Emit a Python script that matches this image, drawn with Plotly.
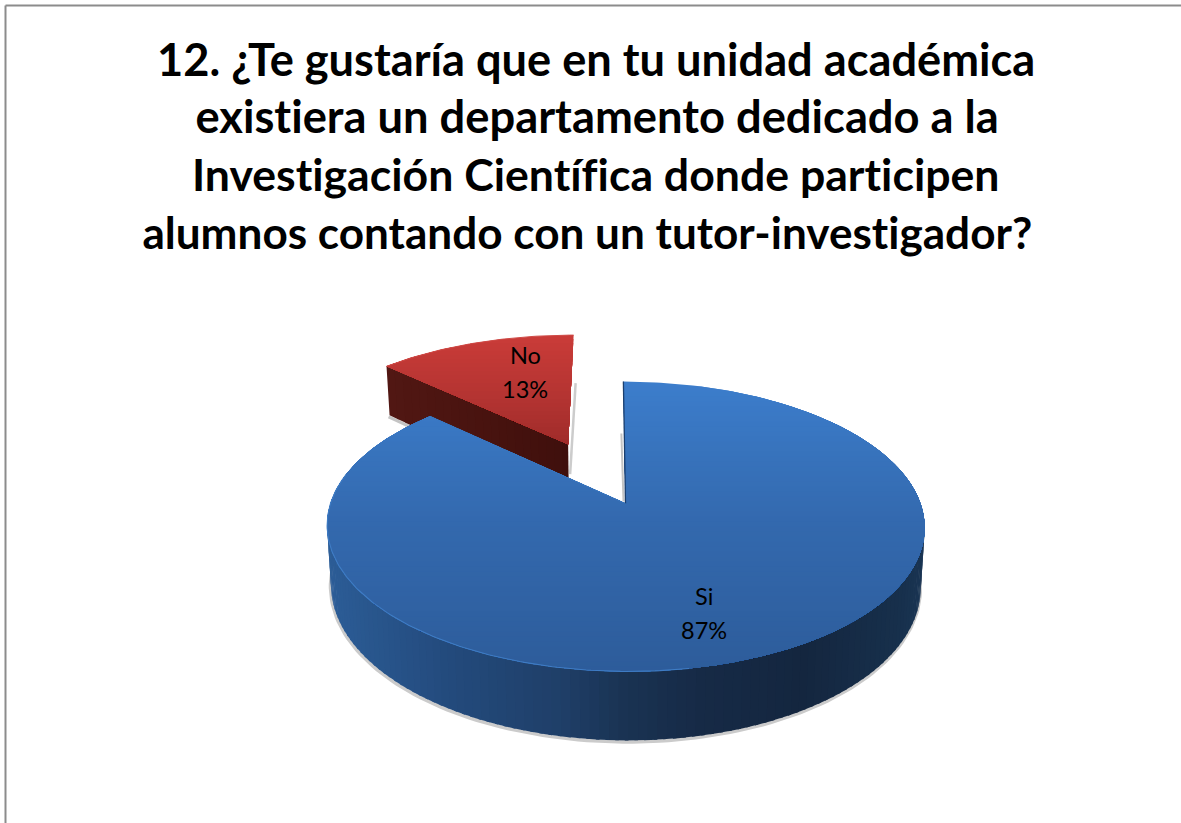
import numpy as np
import plotly.graph_objects as go

# ---- data ----
categories = ["Si", "No"]
values = [87, 13]
title_lines = [
    "12. ¿Te gustaría que en tu unidad académica",
    "existiera un departamento dedicado a la",
    "Investigación Científica donde participen",
    "alumnos contando con un tutor-investigador?",
]

# ---- view of the tilted pie ----
W, H = 1181, 823
CX, CY, VX = 625.5, 503.5, 610.0
R, RK, P, DEPTH = 295.0, 141.3, 0.1587, 58.0
Z_SHRINK = 0.013
EXPLODE_NO = 0.49
RADIUS_NO = 1.02
NO_SHIFT = -0.01
TOTAL = sum(values)


def project(X, Y, z=0.0):
    X, Y = np.asarray(X, float), np.asarray(Y, float)
    w = 1 - P * Y
    return VX + (CX - VX + R * X * (1 - Z_SHRINK * z)) / w, CY + (RK * Y + DEPTH * z) / w


def ring(a0, a1, n, ox=0.0, oy=0.0, r=1.0):
    t = np.radians(np.linspace(a0, a1, n))
    return ox + r * np.sin(t), oy - r * np.cos(t)


def clip_below(px, py, t):
    """Part of a polygon with y >= t."""
    ox, oy = [], []
    n = len(px)
    for i in range(n):
        x0, y0, x1, y1 = px[i], py[i], px[(i + 1) % n], py[(i + 1) % n]
        if y0 >= t:
            ox.append(x0); oy.append(y0)
        if (y0 >= t) != (y1 >= t):
            f = (t - y0) / (y1 - y0)
            ox.append(x0 + f * (x1 - x0)); oy.append(t)
    return ox, oy


def hexmix(stops, v):
    xs = [s[0] for s in stops]
    cols = np.array([[int(s[1][i:i + 2], 16) for i in (1, 3, 5)] for s in stops], float)
    rgb = [np.interp(v, xs, cols[:, k]) for k in range(3)]
    return "rgb(%d,%d,%d)" % tuple(round(c) for c in rgb)


fig = go.Figure()


def poly(x, y, color):
    fig.add_trace(go.Scatter(x=list(x), y=list(y), mode="lines", fill="toself",
                             fillcolor=color, line=dict(width=0, color=color),
                             hoverinfo="skip", showlegend=False))


def stroke(x, y, color, width):
    fig.add_trace(go.Scatter(x=list(x), y=list(y), mode="lines",
                             line=dict(width=width, color=color),
                             hoverinfo="skip", showlegend=False))


def gradient_face(px, py, stops, step=5):
    py = list(py); px = list(px)
    for t in np.arange(min(py), max(py), step):
        cx, cy = clip_below(px, py, t)
        if len(cx) > 2:
            poly(cx + cx[:1], cy + cy[:1], hexmix(stops, t))


BLUE_TOP = [(382, "#3c7dcb"), (520, "#3369ae"), (672, "#2d5c9a")]
BLUE_WALL = [(327, "#2c5d97"), (450, "#234a7c"), (560, "#1f3f68"), (620, "#1a3353"),
             (700, "#162a46"), (800, "#14263f"), (900, "#17304c"), (925, "#1a3554")]
RED_TOP = [(336, "#c93b38"), (400, "#b23331"), (442, "#a02c2a")]
RED_CUT = [(387, "#511713"), (480, "#48130f"), (572, "#3e0f0c")]

ang_blue = 360.0 * values[0] / TOTAL
mid_no = ang_blue + 180.0 * values[1] / TOTAL
ox = EXPLODE_NO * np.sin(np.radians(mid_no)) + NO_SHIFT
oy = -EXPLODE_NO * np.cos(np.radians(mid_no))

# ---- "No" slice (behind) ----
rx, ry = ring(ang_blue, 360.0, 50, ox, oy, RADIUS_NO)
sx, sy = project(rx, ry)
ax, ay = project(ox, oy)
lx0, ly0 = project(rx[0], ry[0])
lx1, ly1 = project(rx[0], ry[0], 1.0)
bx, by = project(ox, oy, 1.0)
# soft shadows
stroke([lx1 - 1, bx], [ly1 + 1.5, by + 1.5], "#c4c4c4", 3)
stroke([sx[-1] + 2, ax + 2], [sy[-1] + 48, ay + 30], "#cccccc", 2.5)
for a in np.arange(lx0, ax, 8):
    a1 = min(a + 9, ax)
    f0, f1 = (a - lx0) / (ax - lx0), (a1 - lx0) / (ax - lx0)
    b0 = lx1 + f0 * (bx - lx1)
    b1 = lx1 + f1 * (bx - lx1)
    qx = [a, a1, b1, b0]
    qy = [ly0 + f0 * (ay - ly0), ly0 + f1 * (ay - ly0),
          ly1 + f1 * (by - ly1), ly1 + f0 * (by - ly1)]
    poly(qx + qx[:1], qy + qy[:1], hexmix(RED_CUT, a))
gradient_face(list(sx) + [ax], list(sy) + [ay], RED_TOP, step=4)
stroke(list(sx), list(sy), "#cf4a46", 1)

# ---- "Si" slice ----
# outer wall silhouette shadow
gx, gy = ring(0, 360, 240)
fx, fy = project(gx, gy, 1.0)
keep = np.where(gy > -0.1)[0]
order = keep[np.argsort(np.arctan2(gy[keep], gx[keep]))]
stroke(fx[order] - 0.5, fy[order] + 1.5, "#cbcbcb", 3.5)

# wall, slice by slice
for a in np.arange(60, 290, 1.6):
    qx, qy = ring(a, a + 2.2, 3)
    tx, ty = project(qx, qy)
    ux, uy = project(qx, qy, 1.0)
    mx = (tx.mean() + ux.mean()) / 2
    poly(list(tx) + list(ux[::-1]) + [tx[0]], list(ty) + list(uy[::-1]) + [ty[0]],
         hexmix(BLUE_WALL, mx))

# top face
tx, ty = ring(0.0, ang_blue, 300)
px, py = project(tx, ty)
ax2, ay2 = project(0.0, 0.0)
gradient_face(list(px) + [ax2], list(py) + [ay2], BLUE_TOP, step=5)

# rim highlight and cut edge
rimx, rimy = ring(170, 282, 140)
hx, hy = project(rimx, rimy)
stroke(hx, hy, "#3f7cc4", 1.1)
stroke([px[0] - 2, ax2 - 2], [py[0] + 52, ay2 - 2], "#c4c4c4", 2)
stroke([px[0], ax2], [py[0], ay2], "#1b3f6e", 1.3)
stroke([px[-1], ax2], [py[-1], ay2], "#3a77c0", 0.8)

# ---- frame and layout ----
fig.update_layout(
    width=W, height=H, margin=dict(l=0, r=0, t=0, b=0, pad=0),
    paper_bgcolor="white", plot_bgcolor="white", showlegend=False,
    xaxis=dict(range=[0, W], visible=False, fixedrange=True),
    yaxis=dict(range=[H, 0], visible=False, fixedrange=True),
    shapes=[
        dict(type="line", x0=5.5, x1=W, y0=5.5, y1=5.5, line=dict(color="#8c8c8c", width=2)),
        dict(type="line", x0=5.5, x1=5.5, y0=5.5, y1=H, line=dict(color="#8c8c8c", width=2)),
    ],
)

FONT = "Lato, Carlito, Calibri, sans-serif"
title_centres = [595.5, 596.5, 595.5, 587.5]
title_sizes = [45.2, 45.3, 44.6, 44.1]
for i, line in enumerate(title_lines):
    fig.add_annotation(x=title_centres[i], y=58 + i * 57.7, text="<b>%s</b>" % line,
                       showarrow=False, xanchor="center", yanchor="middle",
                       font=dict(family=FONT, size=title_sizes[i], color="black"))

label_xy = {"Si": (704, 596), "No": (525, 355)}
label_gap = 33.5
for c, v in zip(categories, values):
    lx, ly = label_xy[c]
    fig.add_annotation(x=lx, y=ly, text=c, showarrow=False,
                       font=dict(family=FONT, size=23.5, color="black"))
    fig.add_annotation(x=lx, y=ly + label_gap, text="%d%%" % v, showarrow=False,
                       font=dict(family=FONT, size=23.5, color="black"))

fig.write_html("out.html", config=dict(displayModeBar=False),
               post_script=("document.body.style.margin='0';"
                            "document.documentElement.style.overflow='hidden';"
                            "var s=document.createElement('style');"
                            "s.textContent='text,tspan{font-variant-ligatures:none !important;"
                            "font-feature-settings:\"liga\" 0,\"clig\" 0 !important;}';"
                            "document.head.appendChild(s);"))
